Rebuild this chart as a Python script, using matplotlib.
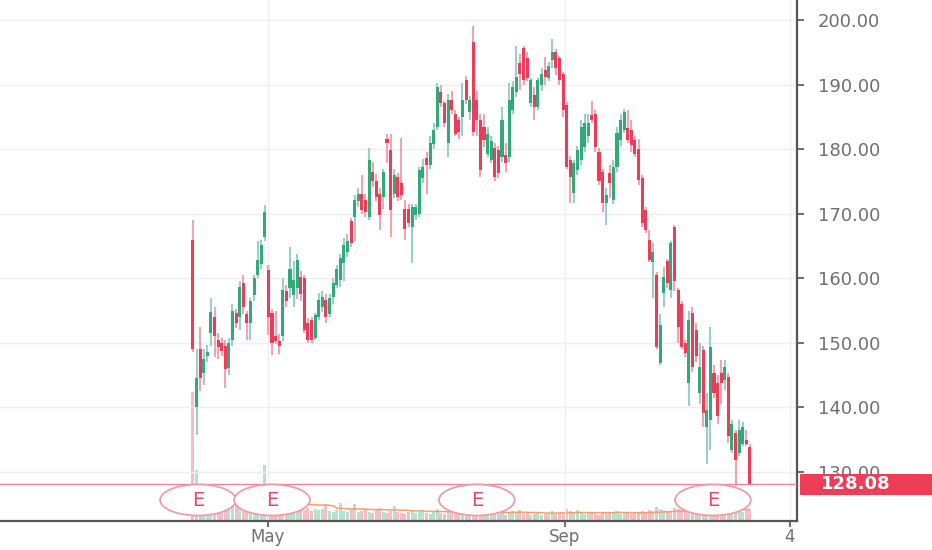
import matplotlib

matplotlib.use("Agg")
import matplotlib.pyplot as plt
import numpy as np
import pandas as pd
from matplotlib.patches import Ellipse, Rectangle
from matplotlib.transforms import blended_transform_factory

# Daily candles, (open, high, low, close)
ohlc_apr_may = [
    (166, 169, 148.5, 149), (140, 149, 135.7, 144.5), (149, 152.5, 142.5, 144.5),
    (145.3, 149, 143.5, 147.5), (148, 149.7, 147, 148.5), (151.5, 157, 149.5, 154.8),
    (154, 155.5, 147.8, 151), (150.5, 151.5, 147.5, 149.4), (150, 150.8, 148, 148.7),
    (149.5, 150.5, 143, 146), (146.1, 150.7, 145, 150), (150.5, 156, 149.5, 155),
    (154.6, 155.2, 152.3, 153), (154, 159.5, 152, 158.6), (159.2, 160.5, 154.5, 155.6),
    (154.5, 155, 150.4, 153), (153, 157, 150.5, 156.5), (157.4, 160.5, 156.5, 160),
    (160.5, 165.7, 160, 162.8), (162.2, 166, 161.5, 165.2), (166.4, 171.4, 165.8, 170.3),
    (161.3, 162, 151.2, 154), (154.6, 155.2, 148.1, 150), (151, 155, 149.8, 150.3),
    (150.3, 151.4, 148.3, 149.5), (151, 160, 150.3, 158.2), (158, 159, 155.5, 156.5),
    (158.5, 164.8, 157, 161.5), (157.4, 162.6, 155.5, 159.8), (158.5, 163.8, 156.8, 162.8),
    (160.2, 161.2, 156.5, 157.5), (160, 160.5, 151.5, 152), (153, 153.8, 150, 150.5),
    (153.5, 154, 150, 150.5),
]
ohlc_jun_jul = [
    (150.7, 154.6, 150.4, 154.3), (154, 157.7, 153.5, 156.6), (155.6, 158, 154.8, 157.1),
    (156.6, 157.5, 153, 154), (154.5, 157.6, 154, 157), (157.1, 160, 156, 159.2),
    (159, 162.1, 158.5, 161.5), (159.8, 163.8, 158.7, 163.1), (162.3, 166.2, 159.5, 165.2),
    (164, 166.8, 163.3, 165.7), (168.8, 169.3, 164.8, 165.4), (169.5, 172.9, 165.8, 172.1),
    (172, 174, 171, 173), (173, 176, 170, 170.6), (172.1, 173, 169.5, 170.3),
    (169.5, 180.1, 169, 178.3), (176.5, 178, 174.2, 175), (175, 176.2, 172, 172.6),
    (173.1, 174, 167.5, 169.8), (172.6, 177, 170.8, 176.5), (181.6, 182.4, 177.8, 180.9),
    (179.9, 182.4, 166.4, 170.6), (173.1, 177, 172.5, 176), (175.7, 176.3, 172, 172.6),
    (174.7, 181.7, 172.1, 172.9), (170.8, 172.1, 165.9, 167.7), (170.8, 171.5, 168, 168.5),
    (168, 171.5, 162.3, 171), (169.8, 171.5, 169, 171.1), (170, 177.3, 169.5, 176.8),
    (175.5, 178.5, 174.8, 177.3), (178.6, 179.5, 173, 177.5), (177.5, 182, 177, 181),
    (180.8, 184, 180, 183),
]
ohlc_jul_aug = [
    (183.5, 190.2, 183, 189.7), (188.9, 190, 186.5, 187.1), (187.1, 187.5, 183.5, 184),
    (180.9, 188.5, 178.8, 187.6), (187.6, 189, 185.5, 186.1), (185.5, 186, 182, 182.4),
    (184.5, 185, 181.5, 182.7), (185, 190.2, 182, 187.6), (190.7, 191.3, 187, 187.6),
    (185.8, 188.3, 184.5, 187.6), (196.6, 199, 182, 182.7), (187.6, 189, 182, 184.5),
    (184.5, 185.5, 175.7, 176.8), (183.5, 185.5, 180.4, 181.4), (179.3, 183.5, 178.8, 182.4),
    (178.3, 182, 177.8, 181.2), (180.1, 181, 175, 175.7), (179.9, 180.5, 175.5, 176.3),
    (178.8, 186.5, 178, 184.5), (179.1, 181, 176.5, 177.8), (178.8, 190.2, 178, 187.6),
    (186.1, 190.5, 185.5, 189.7), (188.9, 195.9, 188, 191.2), (193.3, 194.8, 189.2, 191.7),
    (195.6, 196, 190, 190.7), (194.1, 195, 190.5, 191), (187.1, 191, 186.5, 190.7),
    (188.4, 189.7, 184.5, 186.6), (186.6, 191, 186, 190.7), (189.9, 192.5, 189, 191.7),
    (192.3, 194.3, 189.9, 191.2), (191, 193.5, 190.5, 192.8), (193.8, 197, 192.5, 195.1),
    (195.1, 195.5, 191.5, 192.5), (194.1, 194.5, 190, 190.7), (191.7, 192, 185, 186.1),
]
ohlc_sep_dec = [
    (186.8, 187.3, 177, 177.3), (178.3, 179, 171.6, 175.7), (173.2, 178.3, 171.6, 177.8),
    (176.8, 180.5, 176, 179.9), (178.3, 184.5, 177.6, 183.5), (180.4, 185.5, 179.5, 184),
    (182, 185.5, 181, 184), (185.3, 187.4, 184, 184.5), (185.5, 186, 179.5, 180.4),
    (179.6, 180.2, 174.5, 175), (176.5, 177, 170.3, 171.6), (171.6, 174, 168.2, 172.9),
    (176.3, 177.5, 172.5, 174.7), (172.1, 178.3, 171.5, 177.3), (177.3, 183.5, 176.5, 182.5),
    (181.4, 185.5, 180.5, 184.5), (183, 186.2, 182.5, 185.8), (183.3, 186, 181, 181.4),
    (183, 184.5, 179.5, 180.6), (181.4, 182, 178.8, 179.3), (180, 181.5, 174.5, 175.2),
    (175.5, 176, 168, 168.5), (170.6, 171, 167, 167.5), (166, 167.5, 162.5, 162.8),
    (162.5, 165.5, 157, 164), (160.5, 161, 149, 149.4), (146.8, 154.5, 146.5, 152.8),
    (157.7, 161.8, 155.6, 160.2), (162.6, 163, 158.5, 159.2), (158.2, 165.8, 157, 165.4),
    (168, 168.3, 158, 159.5), (158.2, 158.5, 149.9, 152.5), (156, 156.5, 149, 149.4),
    (150, 150.5, 147.8, 148.4), (143.7, 155, 140.2, 153.5), (154.6, 155.5, 145.5, 146.3),
    (152, 153, 147, 147.9), (142.2, 149.9, 140.6, 146.3), (148.9, 149.5, 137, 139.1),
    (137, 142.2, 131.3, 139.6), (138, 152.5, 133.4, 149.4), (145.3, 146.5, 141.5, 142.2),
    (143.7, 145, 137.5, 138.6), (145.3, 147.3, 140.6, 143.7), (144.2, 147.4, 142.7, 146.3),
    (144.7, 145.3, 134.5, 135.5), (133.4, 138, 133, 137.5), (136, 136.5, 127.8, 131.8),
    (132.9, 138.1, 132.5, 136.5), (134.4, 137.8, 134, 137), (135, 136.5, 134, 134.4),
    (133.9, 134.3, 128, 128.08),
]

volume = [
    129, 51,
    34, 28, 24, 22, 20, 18, 17, 16, 18, 15, 16, 14, 15, 17, 14, 15, 16, 19,
    56,
    22, 16, 14, 15, 13, 12, 13, 11, 14, 12, 11, 13, 10, 12, 11, 12, 17, 10, 9, 11,
    18, 10, 9, 11, 17, 9, 10, 12, 9, 8, 11, 13, 9, 8, 10, 15, 9, 8, 7, 9,
    10, 8, 9, 11, 8, 7, 9, 12, 8, 7, 9, 8, 10, 7, 8, 9, 8, 14, 11, 9,
    8, 7, 8, 9, 7, 8, 6, 9, 10, 8, 11, 7, 8, 6, 7, 8, 6, 7, 8, 10, 7, 8, 9,
    12, 10, 9, 11, 8, 7, 9, 8, 7, 6, 8, 7, 9, 8, 10, 7, 9, 8, 7, 8, 9, 10,
    9, 11, 10, 14, 12, 11, 9, 10, 13, 12, 11, 10, 14, 12, 11, 9, 13, 15, 12, 10,
    11, 9, 10, 12, 11, 13, 10, 9, 11, 10,
]

earnings_at = [1.4, 22.0, 79.0, 144.7]
x_tick_pos = [20.9, 103.5, 166.1]
x_tick_labels = ["May", "Sep", "4"]
y_ticks = [130, 140, 150, 160, 170, 180, 190, 200]
last_price = 128.08

UP, DOWN = "#2eab78", "#ef3b58"
UP_WICK, DOWN_WICK = "#9ccfcc", "#f4a3b2"
UP_VOL, DOWN_VOL = "#b5e2cc", "#f8bcc6"
AXIS = "#555555"
LABEL = "#707070"

rows = np.array(ohlc_apr_may + ohlc_jun_jul + ohlc_jul_aug + ohlc_sep_dec)
opens, highs, lows, closes = rows.T
x = np.arange(len(rows))
rising = closes >= opens

fig = plt.figure(figsize=(9.32, 5.5), dpi=100)
fig.patch.set_facecolor("white")
rect = [0, 29 / 550, 797 / 932, 521 / 550]
xlim = (-53.7, 168.1)

# volume pane underneath the price axes
ax_vol = fig.add_axes(rect)
ax_vol.set_facecolor("white")
ax_vol.bar(x, volume, width=0.85, color=np.where(rising, UP_VOL, DOWN_VOL), linewidth=0)
vol_ma = pd.Series(volume, dtype=float).rolling(20).mean()
ax_vol.plot(x, vol_ma, color="#f5a068", linewidth=1.1)
ax_vol.set_xlim(xlim)
ax_vol.set_ylim(0, 521)
ax_vol.axis("off")

ax = fig.add_axes(rect)
ax.patch.set_visible(False)
ax.set_xlim(xlim)
ax.set_ylim(122.4, 203.1)

ax.vlines(x, lows, highs, colors=np.where(rising, UP_WICK, DOWN_WICK), linewidth=1.5, zorder=3)
body = np.maximum(np.abs(closes - opens), 0.35)
ax.bar(x, body, bottom=np.minimum(opens, closes), width=0.85,
       color=np.where(rising, UP, DOWN), linewidth=0, zorder=4)

ax.axhline(last_price, color="#f28395", linewidth=1.0, zorder=5)

# styling
ax.set_yticks(y_ticks)
ax.set_yticklabels([f"{v:.2f}" for v in y_ticks])
ax.set_xticks(x_tick_pos)
ax.set_xticklabels(x_tick_labels)
ax.yaxis.tick_right()
ax.grid(True, color="#efefef", linewidth=1.0, zorder=0)
ax.set_axisbelow(True)
for side in ["left", "top"]:
    ax.spines[side].set_visible(False)
for side in ["right", "bottom"]:
    ax.spines[side].set_color(AXIS)
    ax.spines[side].set_linewidth(1.6)
ax.tick_params(axis="y", direction="out", length=5, width=1.2, color=AXIS,
               labelcolor=LABEL, labelsize=13, pad=10)
ax.tick_params(axis="x", direction="out", length=4, width=1.2, color=AXIS,
               labelcolor=LABEL, labelsize=12, pad=1)

# earnings markers
data_x_axes_y = blended_transform_factory(ax.transData, ax.transAxes)
for pos in earnings_at:
    ax.add_patch(Ellipse((pos, 0.0403), width=21.1, height=0.0595, transform=data_x_axes_y,
                         facecolor="white", edgecolor="#f09cab", linewidth=1.3,
                         zorder=6, clip_on=False))
    ax.text(pos, 0.0403, "E", transform=data_x_axes_y, ha="center", va="center",
            color="#ea4662", fontsize=14, zorder=7)

# last price tag on the scale
axes_x_data_y = blended_transform_factory(ax.transAxes, ax.transData)
ax.add_patch(Rectangle((1.004, last_price - 1.6), 0.17, 3.2, transform=axes_x_data_y,
                       facecolor="#ee3d57", edgecolor="none", zorder=8, clip_on=False))
ax.text(1.03, last_price, f"{last_price:.2f}", transform=axes_x_data_y, ha="left",
        va="center", color="white", fontsize=13, fontweight="bold", zorder=9)

fig.savefig("out.png", dpi=100, facecolor="white")
